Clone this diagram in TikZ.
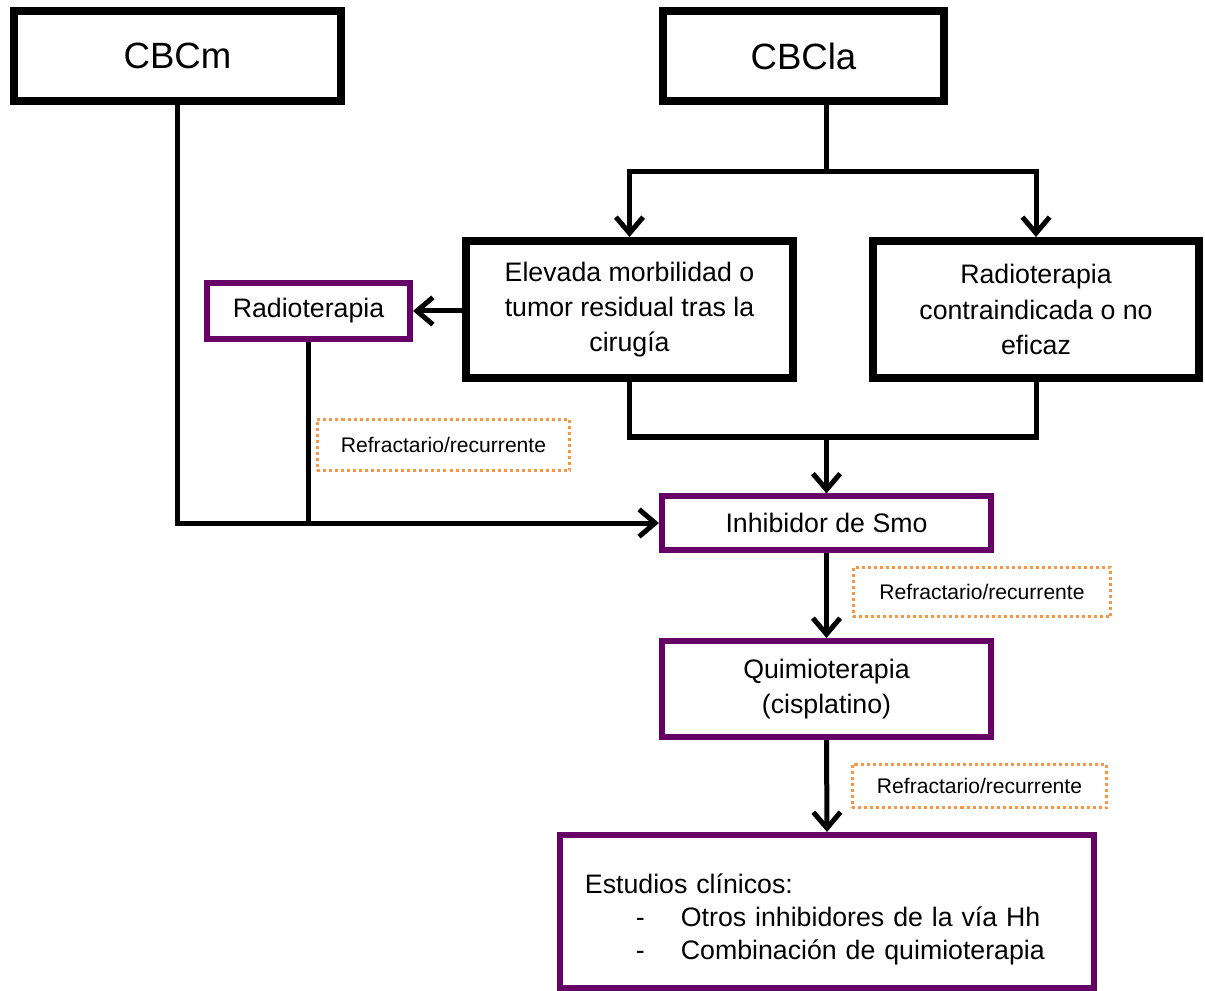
\documentclass[tikz,border=0pt]{standalone}
\usepackage{fontspec}
\setmainfont{Liberation Sans}
\usepackage{xcolor}
\usetikzlibrary{arrows.meta, positioning}
\definecolor{plum}{RGB}{102,0,102}
\definecolor{peach}{RGB}{247,150,70}

\begin{document}
\begin{tikzpicture}[
  x=0.025cm, y=-0.025cm,
  box/.style={rectangle, draw=black, line width=0.2cm, fill=white, align=center,
              font=\fontsize{19}{25}\selectfont},
  pbox/.style={rectangle, draw=plum, line width=0.15cm, fill=white, align=center,
               font=\fontsize{19}{25}\selectfont},
  note/.style={rectangle, draw=peach, line width=0.08cm, dash pattern=on 0.075cm off 0.075cm,
               align=center, font=\fontsize{15}{18}\selectfont},
  arr/.style={-{Straight Barb[length=0.4cm, width=0.68cm]}, line width=0.125cm},
  line/.style={line width=0.125cm}
]
  \useasboundingbox (0,0) rectangle (1205,991);

  \node[box, minimum width=8.175cm, minimum height=2.225cm, font=\fontsize{26}{30}\selectfont]
    (cbcm) at (177.5,56) {CBCm};
  \node[box, minimum width=7.025cm, minimum height=2.225cm, font=\fontsize{26}{30}\selectfont]
    (cbcla) at (803.5,56) {CBCla};
  \node[box, minimum width=8.175cm, minimum height=3.425cm] (elev) at (629.5,309.5)
    {Elevada morbilidad o\\tumor residual tras la\\cirugía};
  \node[box, minimum width=8.15cm, minimum height=3.425cm] (contra) at (1036,309.5)
    {Radioterapia\\contraindicada o no\\eficaz};
  \node[pbox, minimum width=5.075cm, minimum height=1.4cm] (radio) at (308.5,311) {Radioterapia};
  \node[pbox, minimum width=8.225cm, minimum height=1.325cm] (inh) at (826.5,523) {Inhibidor de Smo};
  \node[pbox, minimum width=8.225cm, minimum height=2.4cm] (quim) at (826.5,689)
    {Quimioterapia\\(cisplatino)};
  \node[pbox, minimum width=13.35cm, minimum height=3.825cm, text width=12.1cm, inner xsep=0.625cm,
        align=left, font=\fontsize{19}{23.5}\selectfont] (est) at (827,911.5)
    {\rule{0pt}{0.9cm}Estudios clínicos:\\
     \hspace*{1.275cm}\makebox[1.125cm][l]{-}Otros inhibidores de la vía Hh\\
     \hspace*{1.275cm}\makebox[1.125cm][l]{-}Combinación de quimioterapia};

  % Refractario notes
  \node[note, minimum width=6.3cm, minimum height=1.275cm] (ref1) at (443.5,445) {Refractario/recurrente};
  \node[note, minimum width=6.425cm, minimum height=1.225cm] (ref2) at (982,592) {Refractario/recurrente};
  \node[note, minimum width=6.35cm, minimum height=1.075cm] (ref3) at (979.5,786) {Refractario/recurrente};

  \coordinate (top) at (826.5,103);
  \coordinate (split) at (826.5,172);
  \coordinate (join) at (826.5,437);

  \draw[arr] (cbcm.south) |- (inh.west);
  \draw[line] (radio.south) -- (radio.south |- inh.west);
  \draw[line] (top) -- (split);
  \draw[arr] (split) -| (elev.north);
  \draw[arr] (split) -| (contra.north);
  \draw[arr] (radio.east -| elev.west) -- (radio.east);
  \draw[line] (elev.south) |- (join) -| (contra.south);
  \draw[arr] (join) -- (inh.north);
  \draw[arr] (inh.south) -- (quim.north);
  \draw[arr] (quim.south) -- (est.north);
\end{tikzpicture}
\end{document}
